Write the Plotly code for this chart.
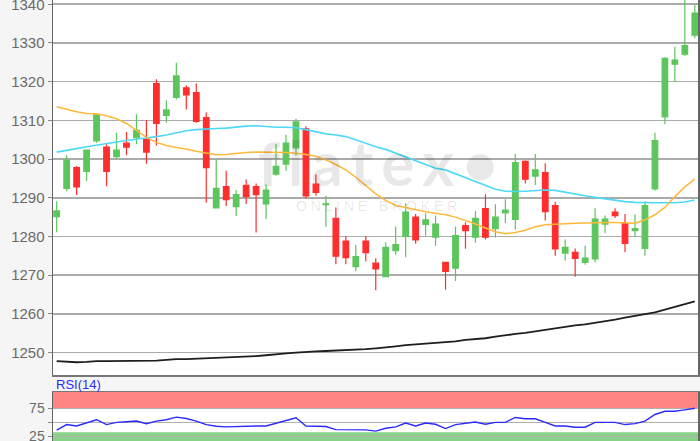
import plotly.graph_objects as go

# ---- data ----
idx = list(range(65))
open_ = [1285.1, 1292.4, 1297.8, 1296.8, 1304.7, 1303.1, 1300.6, 1304.1, 1305.5, 1305.1,
         1319.5, 1311.3, 1315.9, 1318.4, 1317.2, 1310.7, 1287.4, 1292.9, 1287.7, 1293.2,
         1292.9, 1288.4, 1296.1, 1298.7, 1302.9, 1307.8, 1293.5, 1288.2, 1284.7, 1278.8,
         1272.2, 1278.8, 1273.1, 1269.6, 1276.3, 1280.0, 1285.0, 1283.1, 1279.8, 1273.3,
         1271.8, 1282.8, 1279.8, 1287.2, 1282.0, 1286.1, 1284.4, 1299.4, 1295.6, 1296.5,
         1288.0, 1275.7, 1275.9, 1273.3, 1274.2, 1283.2, 1286.3, 1283.4, 1281.5, 1276.9,
         1292.3, 1310.9, 1324.5, 1327.1, 1332.0]
high = [1289.1, 1301.0, 1298.2, 1302.5, 1311.6, 1303.8, 1306.8, 1307.0, 1311.6, 1310.0,
        1320.6, 1315.2, 1324.9, 1319.1, 1319.5, 1312.0, 1300.0, 1297.0, 1292.0, 1294.7,
        1293.7, 1293.4, 1303.9, 1306.3, 1310.4, 1308.5, 1296.0, 1290.5, 1287.5, 1280.1,
        1277.8, 1280.1, 1274.4, 1278.5, 1282.6, 1288.6, 1285.8, 1286.0, 1285.4, 1273.4,
        1282.6, 1283.7, 1286.6, 1290.9, 1288.3, 1289.6, 1301.3, 1299.7, 1301.3, 1298.9,
        1289.0, 1279.2, 1276.9, 1277.6, 1287.3, 1285.4, 1287.3, 1285.8, 1285.7, 1289.1,
        1306.8, 1326.3, 1329.0, 1342.0, 1339.8]
low = [1281.1, 1291.7, 1290.7, 1294.3, 1304.2, 1293.0, 1300.1, 1301.0, 1303.8, 1298.8,
       1303.5, 1309.4, 1315.4, 1312.8, 1309.4, 1288.7, 1287.3, 1287.9, 1285.3, 1288.4,
       1281.0, 1284.5, 1295.7, 1297.0, 1300.9, 1289.8, 1290.5, 1282.5, 1272.8, 1272.8,
       1271.0, 1273.6, 1266.1, 1269.5, 1275.3, 1274.6, 1278.1, 1280.2, 1277.6, 1266.2,
       1268.5, 1276.8, 1278.4, 1279.2, 1279.7, 1283.5, 1281.8, 1293.7, 1293.3, 1284.1,
       1275.0, 1273.7, 1269.6, 1272.7, 1273.3, 1280.8, 1284.8, 1275.9, 1279.8, 1275.0,
       1291.9, 1309.0, 1320.0, 1326.6, 1331.2]
close = [1286.6, 1299.7, 1292.8, 1302.3, 1311.4, 1296.8, 1302.3, 1303.1, 1307.4, 1301.8,
         1309.2, 1312.7, 1321.5, 1316.6, 1309.7, 1297.8, 1292.4, 1289.5, 1290.8, 1290.3,
         1290.8, 1292.0, 1298.1, 1304.1, 1309.6, 1290.5, 1291.4, 1288.4, 1274.9, 1274.5,
         1274.8, 1275.8, 1271.6, 1277.2, 1277.9, 1286.3, 1279.1, 1284.3, 1283.2, 1271.0,
         1280.2, 1281.5, 1284.7, 1279.8, 1285.0, 1286.8, 1299.1, 1294.8, 1297.2, 1286.4,
         1276.8, 1277.2, 1274.3, 1274.4, 1284.5, 1284.5, 1285.4, 1278.2, 1282.0, 1288.0,
         1304.8, 1326.0, 1325.6, 1329.3, 1337.7]

ma_cyan = [1301.8, 1302.2, 1302.7, 1303.2, 1303.6, 1304.0, 1304.5, 1304.8, 1305.1, 1305.4,
           1305.8, 1306.2, 1306.8, 1307.3, 1307.6, 1307.8, 1307.9, 1308.0, 1308.3, 1308.5,
           1308.6, 1308.4, 1308.2, 1308.2, 1308.1, 1307.6, 1307.0, 1306.5, 1306.2, 1305.8,
           1305.0, 1304.0, 1303.2, 1302.5, 1301.5, 1300.5, 1299.5, 1298.5, 1297.6, 1297.2,
           1296.2, 1295.0, 1294.0, 1293.0, 1292.2, 1291.7, 1291.6, 1291.7, 1291.8, 1292.0,
           1291.9, 1291.4, 1291.0, 1290.5, 1290.1, 1289.7, 1289.3, 1289.0, 1288.8, 1288.7,
           1288.7, 1288.7, 1288.7, 1288.9, 1289.4]
ma_orange = [1313.5, 1312.8, 1312.2, 1311.8, 1311.7, 1311.2, 1310.4, 1309.2, 1307.3, 1305.6,
             1304.3, 1303.5, 1303.0, 1302.6, 1302.0, 1301.5, 1301.1, 1301.2, 1301.5, 1301.7,
             1301.8, 1301.8, 1301.8, 1301.7, 1301.5, 1301.2, 1300.7, 1299.8, 1298.6, 1297.2,
             1295.3, 1293.2, 1291.0, 1289.3, 1288.0, 1287.5, 1286.9, 1286.4, 1286.0, 1285.6,
             1285.0, 1284.2, 1283.2, 1282.2, 1281.2, 1280.7, 1281.0, 1281.6, 1282.5, 1283.0,
             1283.2, 1283.3, 1283.4, 1283.5, 1283.6, 1283.6, 1283.6, 1283.5, 1283.4, 1284.3,
             1285.6, 1287.5, 1290.3, 1292.8, 1294.8]
ma_black = [1247.8, 1247.7, 1247.5, 1247.6, 1247.8, 1247.8, 1247.8, 1247.8, 1247.9, 1247.9,
            1247.9, 1248.1, 1248.3, 1248.3, 1248.4, 1248.5, 1248.6, 1248.7, 1248.8, 1248.9,
            1249.1, 1249.3, 1249.6, 1249.8, 1250.0, 1250.2, 1250.3, 1250.4, 1250.5, 1250.7,
            1250.8, 1250.9, 1251.1, 1251.3, 1251.6, 1251.9, 1252.1, 1252.3, 1252.5, 1252.7,
            1252.9, 1253.3, 1253.5, 1253.7, 1254.1, 1254.5, 1254.8, 1255.1, 1255.5, 1255.9,
            1256.3, 1256.6, 1257.0, 1257.3, 1257.7, 1258.0, 1258.5, 1259.0, 1259.5, 1259.9,
            1260.4, 1261.1, 1261.8, 1262.5, 1263.2]
rsi = [35.9, 46.0, 43.5, 49.0, 54.7, 46.0, 50.0, 51.0, 52.3, 47.6,
       52.3, 54.7, 59.4, 57.0, 52.3, 46.0, 43.0, 41.8, 42.5, 43.5,
       43.5, 43.5, 48.8, 53.5, 58.2, 43.5, 43.5, 42.5, 37.0, 36.5,
       36.5, 36.5, 34.2, 39.4, 41.8, 48.8, 43.5, 48.8, 46.5, 38.9,
       46.0, 48.8, 50.6, 46.5, 50.0, 50.0, 58.8, 56.5, 56.5, 50.0,
       43.5, 43.5, 41.2, 41.2, 50.0, 50.0, 50.0, 46.0, 47.6, 52.3,
       64.1, 69.9, 69.9, 72.4, 75.2]

price_ticks = [1250, 1260, 1270, 1280, 1290, 1300, 1310, 1320, 1330, 1340]
rsi_ticks = [25, 50, 75]
rsi_ticktext = ["25", "", "75"]

GREEN = "#5cc65c"
RED = "#ff2e2e"
FONT = "Liberation Sans, Arial, sans-serif"

fig = go.Figure()

fig.add_trace(go.Scatter(x=idx, y=ma_black, mode="lines",
                         line=dict(color="#1e1e1e", width=1.8), xaxis="x", yaxis="y"))
fig.add_trace(go.Scatter(x=idx, y=ma_cyan, mode="lines",
                         line=dict(color="#4fd8f8", width=1.6), xaxis="x", yaxis="y"))
fig.add_trace(go.Scatter(x=idx, y=ma_orange, mode="lines",
                         line=dict(color="#ffb83a", width=1.5), xaxis="x", yaxis="y"))
fig.add_trace(go.Candlestick(
    x=idx, open=open_, high=high, low=low, close=close,
    increasing=dict(line=dict(color=GREEN, width=1.2), fillcolor=GREEN),
    decreasing=dict(line=dict(color=RED, width=1.2), fillcolor=RED),
    whiskerwidth=0, xaxis="x", yaxis="y"))

fig.add_trace(go.Scatter(x=idx, y=rsi, mode="lines",
                         line=dict(color="#2b2bff", width=1.4), xaxis="x2", yaxis="y2"))

xr = [-0.37, 64.32]
fig.update_layout(
    width=700, height=441,
    margin=dict(l=0, r=0, t=0, b=0, autoexpand=False),
    paper_bgcolor="#f5f5f5",
    plot_bgcolor="#ffffff",
    showlegend=False,
    hovermode=False,
    boxgap=0.2,
    font=dict(family=FONT, size=15, color="#6a6a6a"),
    xaxis=dict(domain=[53 / 700, 698 / 700], range=xr, showgrid=False,
               showticklabels=False, zeroline=False, rangeslider=dict(visible=False),
               showline=True, linecolor="#777777", linewidth=1.5, mirror=True,
               anchor="y", automargin=False),
    yaxis=dict(domain=[1 - 375 / 441, 1], range=[1244.2, 1341.1],
               tickvals=price_ticks, showgrid=True, gridcolor="#ababab", gridwidth=1.6,
               zeroline=False, showline=True, linecolor="#666666", linewidth=1.5,
               mirror=True, ticks="outside", ticklen=4, tickcolor="#888888",
               tickfont=dict(size=15, color="#6a6a6a"), anchor="x", automargin=False,
               ticklabeloverflow="allow"),
    xaxis2=dict(domain=[53 / 700, 698 / 700], range=xr, showgrid=False,
                showticklabels=False, zeroline=False, showline=True,
                linecolor="#777777", linewidth=1.5, mirror=True, anchor="y2",
                automargin=False),
    yaxis2=dict(domain=[0, 49 / 441], range=[16.5, 104.5],
                tickvals=rsi_ticks, ticktext=rsi_ticktext, showgrid=True,
                gridcolor="#b0b0b0", gridwidth=1.4, zeroline=False, showline=True,
                linecolor="#666666", linewidth=1.5, mirror=True, ticks="outside",
                ticklen=4, tickcolor="#888888", tickfont=dict(size=14, color="#6a6a6a"),
                anchor="x2", automargin=False, ticklabeloverflow="allow"),
    shapes=[
        dict(type="rect", xref="x2 domain", yref="y2", x0=0, x1=1, y0=75, y1=104.5,
             fillcolor="#ff8585", line=dict(width=0), layer="below"),
        dict(type="rect", xref="x2 domain", yref="y2", x0=0, x1=1, y0=16.5, y1=32,
             fillcolor="#88d288", line=dict(width=0), layer="below"),
    ],
    annotations=[
        dict(text="RSI(14)", xref="paper", yref="paper", x=54 / 700, y=1 - 384 / 441,
             xanchor="left", yanchor="middle", showarrow=False,
             font=dict(family=FONT, size=13, color="#2b2bff")),
        dict(text="f&#8201;l&#8201;a&#8201;t&#8201;e&#8201;x&#8201;\u2022", xref="paper", yref="paper",
             x=378 / 700, y=1 - 162 / 441, xanchor="center", yanchor="middle",
             showarrow=False, font=dict(family="Lato, sans-serif", size=62, weight=700,
                                        color="rgba(0,0,0,0.09)")),
        dict(text="O N L I N E   B R O K E R", xref="paper", yref="paper",
             x=376 / 700, y=1 - 206 / 441, xanchor="center", yanchor="middle",
             showarrow=False, font=dict(family=FONT, size=14, color="rgba(0,0,0,0.10)")),
    ],
)

fig.write_html("out.html", config={"displayModeBar": False, "staticPlot": True},
               post_script="document.body.style.margin='0';document.body.style.overflow='hidden';")
